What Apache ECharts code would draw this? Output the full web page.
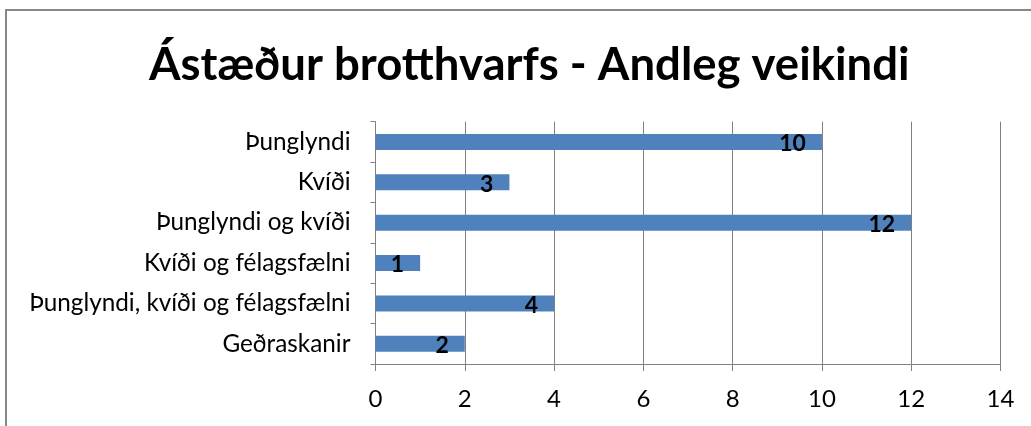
<!DOCTYPE html>
<html>
<head>
<meta charset="utf-8">
<script src="https://cdn.jsdelivr.net/npm/echarts@6/dist/echarts.min.js"></script>
<style>
  html, body { margin: 0; padding: 0; background: #fff; }
  #chart { width: 1031px; height: 426px; }
</style>
</head>
<body>
<div id="chart"></div>
<script>
  // flokkar (efst til neðst) og fjöldi
  const categories = ['Þunglyndi', 'Kvíði', 'Þunglyndi og kvíði', 'Kvíði og félagsfælni', 'Þunglyndi, kvíði og félagsfælni', 'Geðraskanir'];
  const values = [10, 3, 12, 1, 4, 2];

  const chart = echarts.init(document.getElementById('chart'));
  chart.setOption({
    animation: false,
    textStyle: { fontFamily: 'Lato' },
    title: {
      text: 'Ástæður brotthvarfs - Andleg veikindi',
      left: 144,
      top: 37,
      textStyle: { fontFamily: 'Lato', fontSize: 45.5, fontWeight: 'bold', color: '#000' }
    },
    graphic: [{
      type: 'rect',
      shape: { x: 6, y: 10, width: 1100, height: 500 },
      style: { fill: 'none', stroke: '#878787', lineWidth: 2 },
      silent: true
    }],
    grid: { left: 375.5, right: 30.5, top: 121.7, bottom: 62 },
    xAxis: {
      type: 'value',
      min: 0,
      max: 14,
      interval: 2,
      axisLine: { show: true, lineStyle: { color: '#808080' } },
      axisTick: { show: true, length: 7, lineStyle: { color: '#808080' } },
      splitLine: { show: true, lineStyle: { color: '#808080' } },
      axisLabel: { fontSize: 24, color: '#000', margin: 23 }
    },
    yAxis: {
      type: 'category',
      inverse: true,
      data: categories,
      axisLine: { show: true, lineStyle: { color: '#808080' } },
      axisTick: { show: true, length: 5, lineStyle: { color: '#808080' } },
      axisLabel: { fontSize: 24.3, color: '#000', margin: 25 }
    },
    series: [{
      type: 'bar',
      data: values,
      barWidth: 16,
      itemStyle: { color: '#4F81BD' },
      label: {
        show: true,
        position: 'insideRight',
        distance: 16,
        offset: [0, 2],
        fontSize: 23,
        fontWeight: 'bold',
        color: '#000'
      }
    }]
  });
</script>
</body>
</html>
